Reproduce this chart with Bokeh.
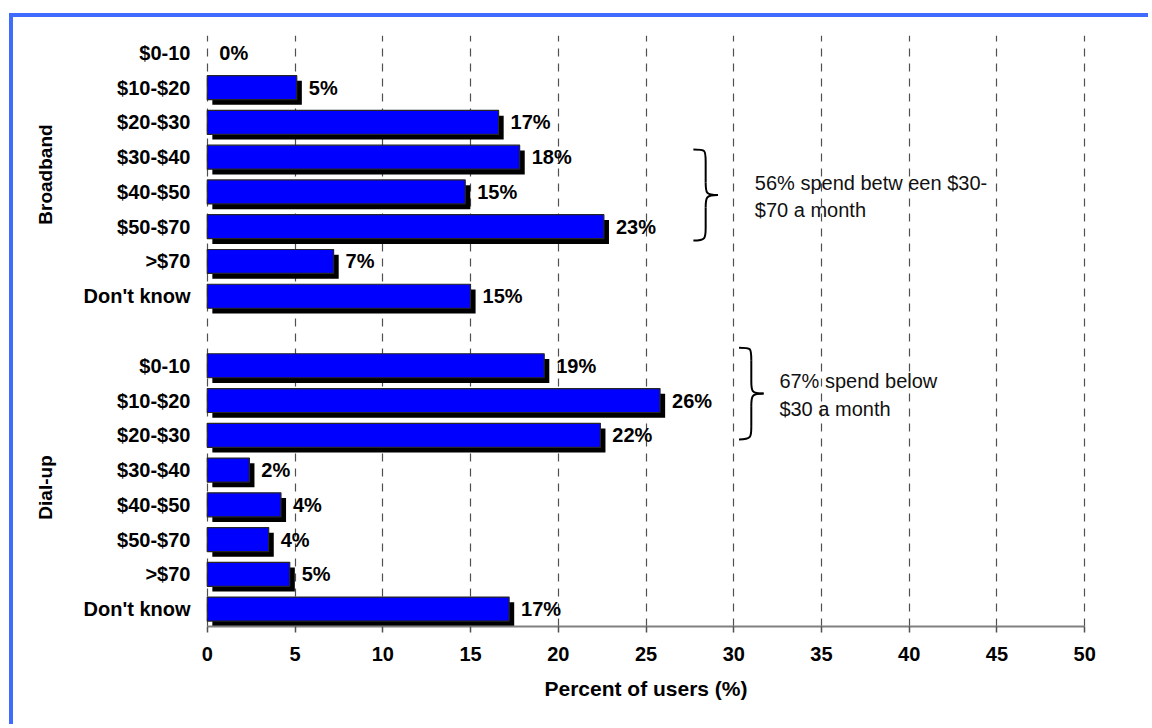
import numpy as np
from bokeh.plotting import figure
from bokeh.models import (ColumnDataSource, FixedTicker, LinearAxis,
                          CDSView, BooleanFilter, Range1d)
from bokeh.core.properties import value
from bokeh.embed import file_html
from bokeh.resources import INLINE

# ---- data -------------------------------------------------------------
groups = ["Broadband", "Dial-up"]
price_bands = ["$0-10", "$10-$20", "$20-$30", "$30-$40", "$40-$50",
               "$50-$70", ">$70", "Don't know"]
broadband_pct = [0.0, 5.1, 16.6, 17.8, 14.7, 22.6, 7.2, 15.0]
dialup_pct = [19.2, 25.8, 22.4, 2.4, 4.2, 3.5, 4.7, 17.2]
x_ticks = [0, 5, 10, 15, 20, 25, 30, 35, 40, 45, 50]
x_title = "Percent of users (%)"
note_broadband = ["56% spend betw een $30-", "$70 a month"]
note_dialup = ["67% spend below", "$30 a month"]

# ---- layout of rows (top group, blank row, bottom group) ---------------
n = len(price_bands)
bb_rows = [2 * n - i for i in range(n)]          # 16 .. 9
du_rows = [n - 1 - i for i in range(n)]          # 7 .. 0
rows = bb_rows + du_rows
pct = broadband_pct + dialup_pct
labels = [f"{v:.0f}%" for v in pct]

BAR_H = 0.69
SHADOW_DX = 0.29
SHADOW_DY = 0.15

src = ColumnDataSource(dict(
    y=rows,
    pct=pct,
    label=labels,
    sy=[r - SHADOW_DY for r in rows],
    sl=[SHADOW_DX] * len(pct),
    sr=[v + SHADOW_DX for v in pct],
))
visible = CDSView(filter=BooleanFilter([v > 0 for v in pct]))

FONT = "Liberation Sans"
BLUE = "#0000FF"
FRAME_BLUE = "#3F6CFF"

# the page frame is a CSS border on the figure element: 9px margin + 4px line
p = figure(width=1152 - 13, height=728 - 17, output_backend="svg",
           toolbar_location=None,
           x_range=Range1d(-0.1, 50.1), y_range=Range1d(-0.5, 2 * n + 0.5),
           min_border_left=205 - 13, min_border_right=66, min_border_top=35 - 17,
           min_border_bottom=102,
           styles={"margin-left": "9px", "margin-top": "13px",
                   "border-left": f"4px solid {FRAME_BLUE}",
                   "border-top": f"4px solid {FRAME_BLUE}"})
p.outline_line_color = None
p.background_fill_color = "white"
p.border_fill_color = "white"

# shadows then bars
p.hbar(y="sy", left="sl", right="sr", height=BAR_H, source=src, view=visible,
       fill_color="black", line_color=None)
p.hbar(y="y", left=0, right="pct", height=BAR_H, source=src, view=visible,
       fill_color=BLUE, line_color="#262626", line_width=1.2)

# value labels
p.text(x="pct", y="y", text="label", source=src, x_offset=12,
       text_baseline="middle", text_align="left",
       text_font=value(FONT), text_font_style="bold", text_font_size="20px",
       text_color="black")

# ---- curly braces with notes -----------------------------------------
def brace(x0, width, y_top, y_bot, r):
    xm = x0 + width / 2.0
    x1 = x0 + width
    ym = (y_top + y_bot) / 2.0
    curves = dict(
        x0=[x0, xm, xm, xm], y0=[y_top, ym + r, ym - r, y_bot + r],
        x1=[xm, x1, x1, x0], y1=[y_top - r, ym, ym, y_bot],
        cx0=[xm, xm, xm, xm], cy0=[y_top, ym + r * 0.2, ym - r * 0.2, y_bot + r * 0.2],
        cx1=[xm, xm, xm, xm], cy1=[y_top, ym, ym, y_bot],
    )
    lines = dict(x0=[xm, xm], y0=[y_top - r, ym - r], x1=[xm, xm], y1=[ym + r, y_bot + r])
    return curves, lines

for x0, top, bot, note, tx in [
    (27.7, bb_rows[3] + 0.22, bb_rows[5] - 0.40, note_broadband, 31.2),
    (30.3, du_rows[0] + 0.52, du_rows[2] - 0.12, note_dialup, 32.6),
]:
    curves, lines = brace(x0, 1.4, top, bot, 0.36)
    p.bezier(source=ColumnDataSource(curves), x0="x0", y0="y0", x1="x1", y1="y1",
             cx0="cx0", cy0="cy0", cx1="cx1", cy1="cy1",
             line_color="black", line_width=2)
    p.segment(source=ColumnDataSource(lines), x0="x0", y0="y0", x1="x1", y1="y1",
              line_color="black", line_width=2)
    mid = (top + bot) / 2.0
    p.text(x=[tx, tx], y=[mid + 0.35, mid - 0.43], text=note,
           text_baseline="middle", text_align="left",
           text_font=value(FONT), text_font_size="20px", text_color="#111111")

# ---- grid -------------------------------------------------------------
p.xgrid.ticker = FixedTicker(ticks=x_ticks)
p.xgrid.grid_line_color = "#505050"
p.xgrid.grid_line_dash = "8 7"
p.xgrid.grid_line_width = 1.2
p.ygrid.grid_line_color = None

# ---- x axis -----------------------------------------------------------
xa = p.xaxis[0]
xa.ticker = FixedTicker(ticks=x_ticks)
xa.bounds = (x_ticks[0], x_ticks[-1])
xa.axis_line_color = "#808080"
xa.axis_line_width = 2
xa.major_tick_line_color = "#505050"
xa.major_tick_line_width = 1.5
xa.major_tick_out = 6
xa.major_tick_in = 0
xa.minor_tick_line_color = None
xa.major_label_text_font = FONT
xa.major_label_text_font_style = "bold"
xa.major_label_text_font_size = "20px"
xa.major_label_text_color = "black"
xa.major_label_standoff = 14
xa.axis_label = x_title
xa.axis_label_text_font = FONT
xa.axis_label_text_font_style = "bold"
xa.axis_label_text_font_size = "21px"
xa.axis_label_text_color = "black"
xa.axis_label_standoff = 13

# ---- y axis: price bands ----------------------------------------------
ya = p.yaxis[0]
ya.ticker = FixedTicker(ticks=rows)
ya.major_label_overrides = {r: price_bands[i % n] for i, r in enumerate(rows)}
ya.axis_line_color = None
ya.major_tick_line_color = None
ya.minor_tick_line_color = None
ya.major_label_standoff = 9
ya.major_label_text_font = FONT
ya.major_label_text_font_style = "bold"
ya.major_label_text_font_size = "20px"
ya.major_label_text_color = "black"

# ---- y axis: group names ----------------------------------------------
group_centers = [sum(bb_rows) / n, sum(du_rows) / n]
ga = LinearAxis(ticker=FixedTicker(ticks=group_centers),
                major_label_overrides={c: g for c, g in zip(group_centers, groups)})
ga.axis_line_color = None
ga.major_tick_line_color = None
ga.minor_tick_line_color = None
ga.major_label_orientation = "parallel"
ga.major_label_standoff = 18
ga.major_label_text_font = FONT
ga.major_label_text_font_style = "bold"
ga.major_label_text_font_size = "19px"
ga.major_label_text_color = "black"
p.add_layout(ga, "left")

open("out.html", "w").write(file_html(p, INLINE))
